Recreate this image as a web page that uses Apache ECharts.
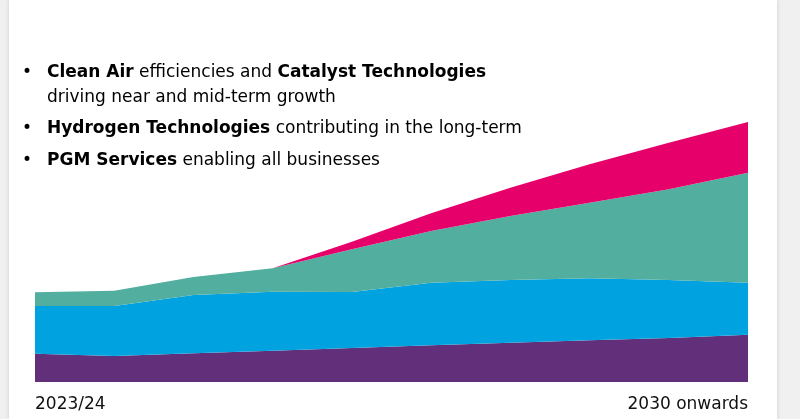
<!DOCTYPE html>
<html><head><meta charset="utf-8">
<script src="https://cdn.jsdelivr.net/npm/echarts@6/dist/echarts.min.js"></script>
<style>
html,body{margin:0;padding:0;background:#f0f0f0;}
#card{position:absolute;left:9px;top:0;width:768px;height:419px;background:#fff;box-shadow:0 0 4px rgba(0,0,0,0.15);}
#c{position:absolute;left:0;top:0;width:800px;height:419px;}
</style></head>
<body><div id="card"></div><div id="c"></div>
<script>
const categories = ['2023/24','','','','','','','','','2030 onwards'];
const pgmServices = [28.3,26,28.7,31.3,34,36.7,39.3,41.7,44,47.3];
const cleanAir = [47.7,50,58.3,59,56,62.6,62.7,62,58,52];
const catalystTech = [13.7,15.3,18,23.4,42.7,51.7,64,75.6,90.7,110];
const hydrogenTech = [0,0,0,0,7.6,17.7,28.3,38.4,46.6,50.7];
const seriesNames = ['PGM Services','Clean Air','Catalyst Technologies','Hydrogen Technologies'];
const colors = ['#62307b','#00a3e0','#52ae9f','#e5006a'];
const data = [pgmServices, cleanAir, catalystTech, hydrogenTech];

const chart = echarts.init(document.getElementById('c'));
const font = 'DejaVu Sans';
const rich = {b:{fontFamily:font,fontWeight:'bold',fontSize:17,color:'#111'},n:{fontFamily:font,fontSize:17,color:'#111'}};
function txt(x,y,t){return {type:'text',left:x,top:y,style:{text:t,rich:rich,font:'17px DejaVu Sans'}};}
chart.setOption({
  animation:false,
  grid:{left:35,right:52,top:110,bottom:37},
  xAxis:{type:'category',boundaryGap:false,data:categories,
    axisLine:{show:false},axisTick:{show:false},
    axisLabel:{interval:0,fontFamily:font,fontSize:17,color:'#111',margin:14,alignMinLabel:'left',alignMaxLabel:'right'}},
  yAxis:{type:'value',min:0,max:272,show:false},
  graphic:[
    txt(22,64,'{n|•}'), txt(47,64,'{b|Clean Air}{n| efficiencies and }{b|Catalyst Technologies}'),
    txt(47,89,'{n|driving near and mid-term growth}'),
    txt(22,120,'{n|•}'), txt(47,120,'{b|Hydrogen Technologies}{n| contributing in the long-term}'),
    txt(22,152,'{n|•}'), txt(47,152,'{b|PGM Services}{n| enabling all businesses}')
  ],
  series:data.map((d,i)=>({name:seriesNames[i],type:'line',stack:'t',data:d,symbol:'none',
    lineStyle:{width:0},areaStyle:{color:colors[i],opacity:1},itemStyle:{color:colors[i]}}))
});
</script></body></html>
